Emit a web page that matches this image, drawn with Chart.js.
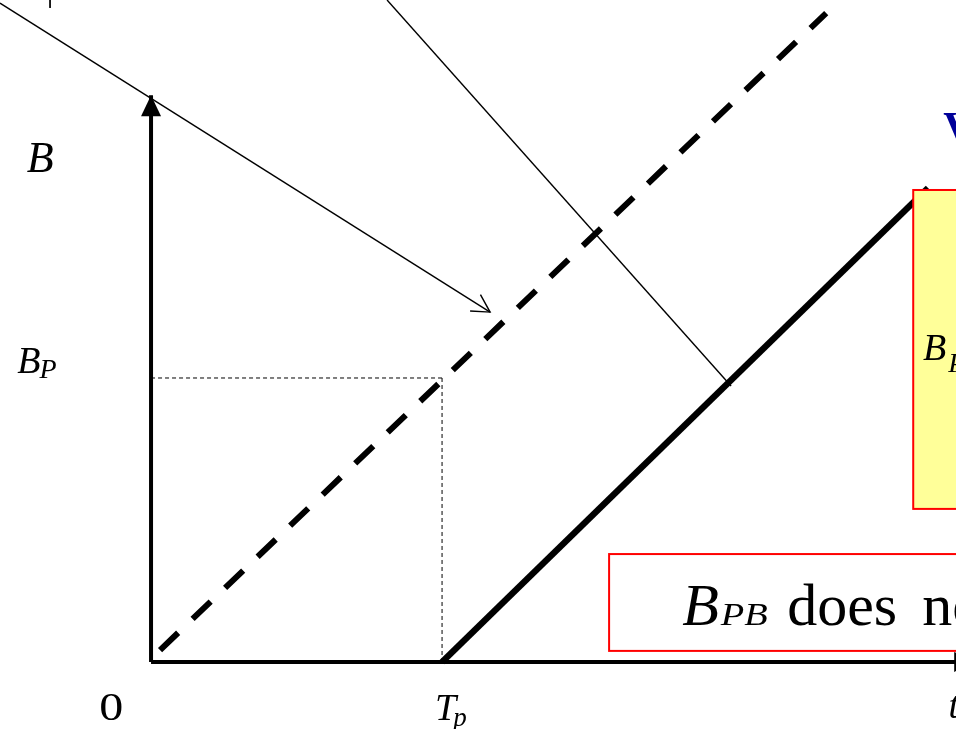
<!DOCTYPE html>
<html>
<head>
<meta charset="utf-8">
<script src="https://cdn.jsdelivr.net/npm/chart.js@4.4.1/dist/chart.umd.min.js"></script>
<style>
  html, body { margin: 0; padding: 0; background: #ffffff; overflow: hidden; }
  #wrap { position: relative; width: 956px; height: 729px; }
</style>
</head>
<body>
<div id="wrap"><canvas id="c" width="956" height="729"></canvas></div>
<script>
// ---------------- data (units: t in Tp, B in B_P) ----------------
const xTicks        = [0, 1];                 // 0, Tp
const xTickLabels   = [['0', ''], ['T', 'p']];
const yTicks        = [1];                    // B_P
const yTickLabels   = [['B', 'P']];
const axisTitles    = [['t', ''], ['B', '']]; // x title, y title

const dashedLine    = [[0.031, 0.042], [2.32, 2.285]];   // B without delay
const solidLine     = [[1, 0], [2.67, 1.669]];           // B delayed by Tp
const pointerA      = [[-0.519, 2.32], [1.165, 1.232]];  // thin arrow to dashed line
const pointerB      = [[0.811, 2.331], [1.993, 0.972]];  // thin line to solid line
const topMark       = [[-0.347, 2.331], [-0.347, 2.303]];
const xAxisLine     = [[0, 0], [2.832, 0]];
const yAxisLine     = [[0, 0], [0, 1.996]];
const guideH        = [[0, 1], [1, 1]];
const guideV        = [[1, 1], [1, 0]];

const noteYellow    = ['B', 'P'];
const noteWhite     = ['B', 'PB', 'does', 'not'];
const titleText     = ['V'];

// ---------------- layout ----------------
const X_MIN = -0.519, X_MAX = 2.766, Y_MIN = -0.236, Y_MAX = 2.331;
const SERIF = '"Liberation Serif", "Times New Roman", serif';

const pts = a => a.map(p => ({ x: p[0], y: p[1] }));
const base = { showLine: true, pointRadius: 0, pointHoverRadius: 0, fill: false, borderColor: '#000000', tension: 0 };

const datasets = [
  Object.assign({}, base, { data: pts(guideH), borderWidth: 1, borderDash: [4, 3], borderColor: '#000' }),
  Object.assign({}, base, { data: pts(guideV), borderWidth: 1, borderDash: [4, 3], borderColor: '#000' }),
  Object.assign({}, base, { data: pts(dashedLine), borderWidth: 6, borderDash: [25, 20], borderCapStyle: 'butt' }),
  Object.assign({}, base, { data: pts(solidLine), borderWidth: 6.5, borderCapStyle: 'butt' }),
  Object.assign({}, base, { data: pts(pointerA), borderWidth: 1.4, arrow: 'open' }),
  Object.assign({}, base, { data: pts(pointerB), borderWidth: 1.4 }),
  Object.assign({}, base, { data: pts(topMark), borderWidth: 1 }),
  Object.assign({}, base, { data: pts(xAxisLine), borderWidth: 4, arrow: 'filled' }),
  Object.assign({}, base, { data: pts(yAxisLine), borderWidth: 4, arrow: 'filled' })
];

// text / box placement in data units
const L = {
  yTitle:  { x: -0.381, y: 1.725, size: 44 },
  yTick:   { x: -0.460, size: 38, subSize: 28, subDrop: 5, baseOff: 0.018 },
  xTick0:  { x: -0.178, y: -0.204, size: 40 },
  xTick1:  { x: 0.976, y: -0.204, size: 38, subSize: 27, subDrop: 6 },
  xTitle:  { x: 2.74, y: -0.197, size: 38 },
  boxY:    { x0: 2.619, x1: 2.9, y0: 0.539, y1: 1.662 },
  boxYtxt: { x: 2.653, y: 1.063, size: 38, subSize: 28, subDrop: 12 },
  boxW:    { x0: 1.574, x1: 2.9, y0: 0.039, y1: 0.380 },
  boxWtxt: { x: 1.825, y: 0.130, size: 60, subSize: 32, wordX: [2.186, 2.65] },
  title:   { x: 2.722, y: 1.831, size: 44 }
};

function arrowHead(ctx, a, b, kind, lw) {
  const ang = Math.atan2(b.y - a.y, b.x - a.x);
  ctx.save();
  ctx.translate(b.x, b.y);
  ctx.rotate(ang);
  ctx.fillStyle = '#000';
  ctx.strokeStyle = '#000';
  if (kind === 'filled') {
    ctx.beginPath();
    ctx.moveTo(0, 0);
    ctx.lineTo(-21, -10);
    ctx.lineTo(-21, 10);
    ctx.closePath();
    ctx.fill();
  } else {
    const len = 20, sp = 29 * Math.PI / 180;
    ctx.lineWidth = lw;
    ctx.beginPath();
    ctx.moveTo(-len * Math.cos(sp), -len * Math.sin(sp));
    ctx.lineTo(0, 0);
    ctx.lineTo(-len * Math.cos(sp), len * Math.sin(sp));
    ctx.stroke();
  }
  ctx.restore();
}

function txt(ctx, s, x, y, size, style, color, sx) {
  ctx.save();
  ctx.font = (style || '') + ' ' + size + 'px ' + SERIF;
  ctx.fillStyle = color || '#000';
  ctx.textBaseline = 'alphabetic';
  ctx.textAlign = 'left';
  ctx.translate(x, y);
  if (sx) ctx.scale(sx, 1);
  ctx.fillText(s, 0, 0);
  const w = ctx.measureText(s).width * (sx || 1);
  ctx.restore();
  return w;
}

const overlay = {
  id: 'overlay',
  afterDatasetsDraw(chart) {
    const ctx = chart.ctx;
    const sx = chart.scales.x, sy = chart.scales.y;
    const X = v => sx.getPixelForValue(v), Y = v => sy.getPixelForValue(v);

    // arrowheads
    chart.data.datasets.forEach((ds, i) => {
      if (!ds.arrow) return;
      const el = chart.getDatasetMeta(i).data;
      arrowHead(ctx, el[el.length - 2], el[el.length - 1], ds.arrow, ds.borderWidth);
    });

    // boxes
    function box(b, fill) {
      const x0 = X(b.x0), x1 = X(b.x1), y0 = Y(b.y1), y1 = Y(b.y0);
      ctx.save();
      ctx.fillStyle = fill;
      ctx.fillRect(x0, y0, x1 - x0, y1 - y0);
      ctx.strokeStyle = '#ff0000';
      ctx.lineWidth = 2;
      ctx.strokeRect(x0, y0, x1 - x0, y1 - y0);
      ctx.restore();
    }
    box(L.boxY, '#ffff99');
    box(L.boxW, '#ffffff');

    // axis titles
    ctx.save();
    ctx.font = 'italic ' + L.yTitle.size + 'px ' + SERIF;
    ctx.textAlign = 'center';
    ctx.fillStyle = '#000';
    ctx.fillText(axisTitles[1][0], X(L.yTitle.x), Y(L.yTitle.y));
    ctx.restore();
    txt(ctx, axisTitles[0][0], X(L.xTitle.x), Y(L.xTitle.y), L.xTitle.size, 'italic');

    // y tick label
    yTicks.forEach((v, i) => {
      const bx = X(L.yTick.x), by = Y(v + L.yTick.baseOff);
      const w = txt(ctx, yTickLabels[i][0], bx, by, L.yTick.size, 'italic');
      txt(ctx, yTickLabels[i][1], bx + w - 1, by + L.yTick.subDrop, L.yTick.subSize, 'italic');
    });

    // x tick labels
    txt(ctx, xTickLabels[0][0], X(L.xTick0.x), Y(L.xTick0.y), L.xTick0.size, '', '#000', 1.2);
    {
      const bx = X(L.xTick1.x + xTicks[1] - 1), by = Y(L.xTick1.y);
      const w = txt(ctx, xTickLabels[1][0], bx, by, L.xTick1.size, 'italic');
      txt(ctx, xTickLabels[1][1], bx + w - 3, by + L.xTick1.subDrop, L.xTick1.subSize, 'italic');
    }

    // yellow note
    {
      const bx = X(L.boxYtxt.x), by = Y(L.boxYtxt.y);
      const w = txt(ctx, noteYellow[0], bx, by, L.boxYtxt.size, 'italic');
      txt(ctx, noteYellow[1], bx + w + 2, by + L.boxYtxt.subDrop, L.boxYtxt.subSize, 'italic');
    }

    // white note
    {
      const bx = X(L.boxWtxt.x), by = Y(L.boxWtxt.y);
      const w = txt(ctx, noteWhite[0], bx, by, L.boxWtxt.size, 'italic');
      txt(ctx, noteWhite[1], bx + w + 2, by, L.boxWtxt.subSize, 'italic', '#000', 1.2);
      txt(ctx, noteWhite[2], X(L.boxWtxt.wordX[0]), by, L.boxWtxt.size, '');
      txt(ctx, noteWhite[3], X(L.boxWtxt.wordX[1]), by, L.boxWtxt.size, '');
    }

    // blue title fragment
    txt(ctx, titleText[0], X(L.title.x), Y(L.title.y), L.title.size, 'bold', '#000099');
  }
};

new Chart(document.getElementById('c'), {
  type: 'scatter',
  data: { datasets },
  options: {
    responsive: false,
    animation: false,
    devicePixelRatio: 1,
    layout: { padding: 0 },
    events: [],
    plugins: { legend: { display: false }, tooltip: { enabled: false } },
    scales: {
      x: { type: 'linear', min: X_MIN, max: X_MAX, display: false },
      y: { type: 'linear', min: Y_MIN, max: Y_MAX, display: false }
    }
  },
  plugins: [overlay]
});
</script>
</body>
</html>
